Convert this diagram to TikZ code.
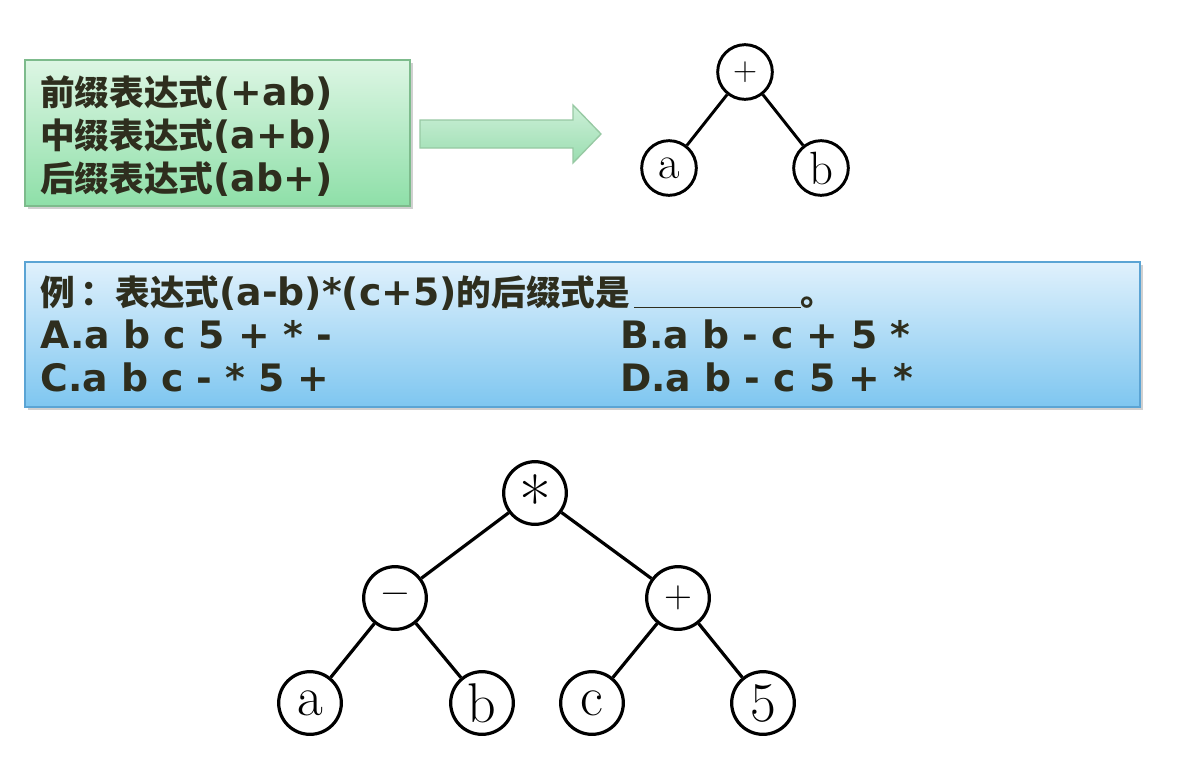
\documentclass[tikz,border=0pt]{standalone}
\usepackage{fontspec}
\usetikzlibrary{shadows}
\newfontfamily\cjk{Noto Sans CJK SC}
\newfontfamily\lat{DejaVu Sans}[Scale=1.09]
\definecolor{txtcol}{HTML}{2E2E1E}
\definecolor{gtop}{HTML}{DDF6E4}
\definecolor{gbot}{HTML}{8EDFA8}
\definecolor{gbrd}{HTML}{7DBB8C}
\definecolor{atop}{HTML}{CDF0D8}
\definecolor{abot}{HTML}{9ADDB0}
\definecolor{btop}{HTML}{E0F1FC}
\definecolor{bbot}{HTML}{7EC6F0}
\definecolor{bbrd}{HTML}{5BA4D4}
\begin{document}
\begin{tikzpicture}[x=0.75pt,y=-0.75pt,
  txt/.style={anchor=base west, inner sep=0pt, text=txtcol, font=\fontsize{26}{30}\selectfont\bfseries},
  gbox/.style={rectangle, draw=gbrd, line width=1.2pt, top color=gtop, bottom color=gbot, inner sep=0pt,
     drop shadow={shadow xshift=2pt, shadow yshift=-2.5pt, opacity=0.3, fill=black!60}},
  bbox/.style={rectangle, draw=bbrd, line width=1.2pt, top color=btop, bottom color=bbot, inner sep=0pt,
     drop shadow={shadow xshift=2pt, shadow yshift=-2.5pt, opacity=0.3, fill=black!60}},
  tsmall/.style={circle, draw=black, line width=2.2pt, minimum size=41pt, inner sep=0pt, fill=white, font=\fontsize{35}{38}\selectfont},
  tbig/.style={circle, draw=black, line width=2.4pt, minimum size=47pt, inner sep=0pt, fill=white, font=\fontsize{42}{44}\selectfont},
  opS/.style={font=\fontsize{25}{28}\selectfont},
  opB/.style={font=\fontsize{29}{32}\selectfont},
  edgeS/.style={line width=2.2pt},
  edgeB/.style={line width=2.4pt}]
\useasboundingbox[fill=white] (0,0) rectangle (1189,758);

% green box
\node[gbox, minimum width=288.75pt, minimum height=109.5pt] (green) at (217.5,133) {};
\node[txt] (g1) at (40,105) {{\cjk 前缀表达式}{\lat(+ab)}};
\node[txt] (g2) at (40,148) {{\cjk 中缀表达式}{\lat(a+b)}};
\node[txt] (g3) at (40,191) {{\cjk 后缀表达式}{\lat(ab+)}};

% block arrow
\path[draw=gbrd!80, line width=1pt, top color=atop, bottom color=abot]
  (420,120) -- (573,120) -- (573,105) -- (601,134) -- (573,163) -- (573,148) -- (420,148) -- cycle;

% small tree
\node[tsmall, opS] (sp) at (745,72) {+};
\node[tsmall] (sa) at (669,168) {a};
\node[tsmall] (sb) at (821,168) {b};
\draw[edgeS] (sp) -- (sa);
\draw[edgeS] (sp) -- (sb);

% blue box
\node[bbox, minimum width=836.25pt, minimum height=108.75pt] (blue) at (582.5,334.5) {};
\node[txt] (q) at (40,305) {{\cjk 例\,：表达式}{\lat(a-b)*(c+5)}{\cjk 的后缀式是}{\lat\kern3pt\underline{\hspace{125pt}}}{\cjk 。}};
\node[txt] (oa) at (40,348) {\lat A.a b c 5 + * -};
\node[txt] (ob) at (620,348) {\lat B.a b - c + 5 *};
\node[txt] (oc) at (40,391) {\lat C.a b c - * 5 +};
\node[txt] (od) at (620,391) {\lat D.a b - c 5 + *};

% big tree
\node[tbig, font=\fontsize{52}{54}\selectfont] (r) at (535,493) {\raisebox{-25pt}[0pt][0pt]{*}};
\node[tbig, opB] (m) at (395,598) {−};
\node[tbig, opB] (p) at (678,598) {+};
\node[tbig] (a) at (310,703) {a};
\node[tbig] (b) at (482,703) {b};
\node[tbig] (c) at (592,703) {c};
\node[tbig] (f) at (763,703) {5};
\draw[edgeB] (r) -- (m);
\draw[edgeB] (r) -- (p);
\draw[edgeB] (m) -- (a);
\draw[edgeB] (m) -- (b);
\draw[edgeB] (p) -- (c);
\draw[edgeB] (p) -- (f);
\end{tikzpicture}
\end{document}
